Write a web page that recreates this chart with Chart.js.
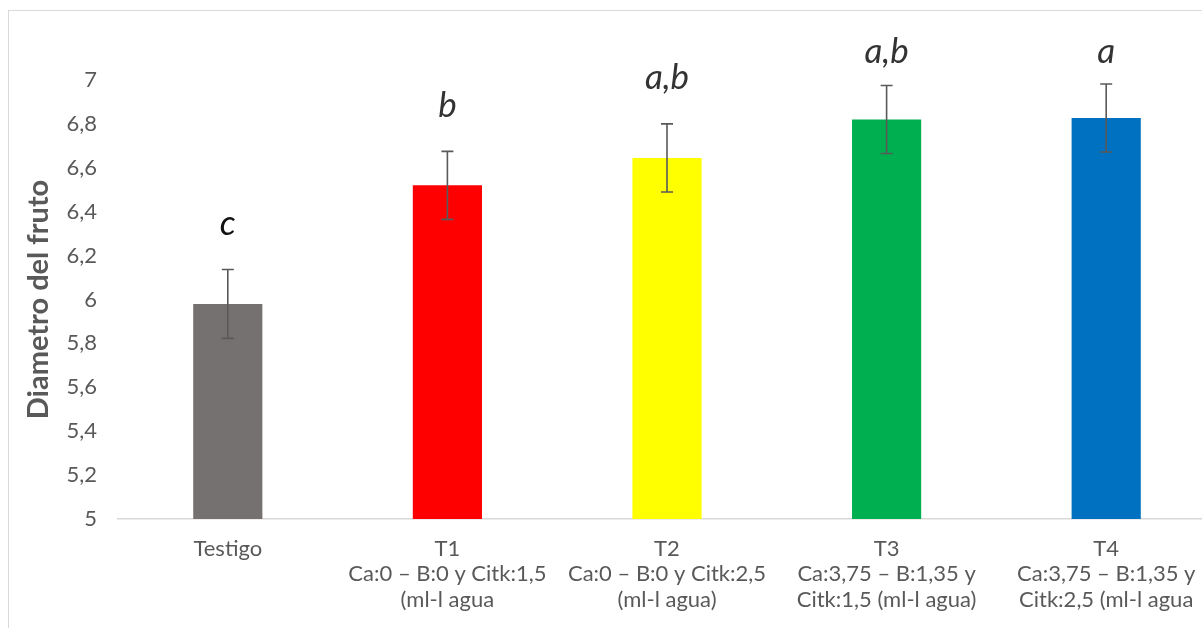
<!DOCTYPE html>
<html>
<head>
<meta charset="utf-8">
<script src="https://cdn.jsdelivr.net/npm/chart.js@4.4.1/dist/chart.umd.min.js"></script>
<style>
  html, body { margin: 0; padding: 0; background: #fff; overflow: hidden; }
  #frame {
    position: absolute; left: 8px; top: 10px; width: 1216px; height: 618px;
    border-left: 1px solid #d9d9d9; border-top: 1px solid #d9d9d9;
  }
  #chartBox { position: absolute; left: 0; top: 0; width: 1207px; height: 617px; }
</style>
</head>
<body>
<div id="frame"><div id="chartBox"><canvas id="fruitChart"></canvas></div></div>
<script>
/* --------------- Data --------------------- */
const categories = [
    ["Testigo"],
    ["T1", "Ca:0 – B:0 y Citk:1,5", "(ml-l agua"],
    ["T2", "Ca:0 – B:0 y Citk:2,5", "(ml-l agua)"],
    ["T3", "Ca:3,75 – B:1,35 y", "Citk:1,5 (ml-l agua)"],
    ["T4", "Ca:3,75 – B:1,35 y", "Citk:2,5 (ml-l agua"]
];
const diameters = [5.98, 6.52, 6.645, 6.82, 6.827];
const errors = [0.157, 0.155, 0.155, 0.155, 0.155];
const letters = ["c", "b", "a,b", "a,b", "a"];
const yTicks = [5, 5.2, 5.4, 5.6, 5.8, 6, 6.2, 6.4, 6.6, 6.8, 7];

/* --------------- Colors --------------------- */
const barColors = ["#767171", "#FF0000", "#FFFF00", "#00B050", "#0070C0"];
const letterColors = ["#111111", "#333333", "#333333", "#333333", "#333333"];

/* --------------- Error bars + letters plugin --------------------- */
const errorBarsPlugin = {
    id: "errorBars",
    afterDatasetsDraw(chart) {
        const ctx = chart.ctx;
        const yScale = chart.scales.y;
        const meta = chart.getDatasetMeta(0);
        ctx.save();
        meta.data.forEach((bar, i) => {
            const x = bar.x;
            const top = yScale.getPixelForValue(diameters[i] + errors[i]);
            const bottom = yScale.getPixelForValue(diameters[i] - errors[i]);
            ctx.strokeStyle = "#595959";
            ctx.lineWidth = 1.6;
            ctx.beginPath();
            ctx.moveTo(x, top); ctx.lineTo(x, bottom);
            ctx.moveTo(x - 6, top); ctx.lineTo(x + 6, top);
            ctx.moveTo(x - 6, bottom); ctx.lineTo(x + 6, bottom);
            ctx.stroke();

            // significance letter above the error bar
            ctx.font = "italic 35px Lato";
            ctx.fillStyle = letterColors[i];
            ctx.textAlign = "center";
            ctx.textBaseline = "middle";
            ctx.fillText(letters[i], x, Math.max(top - 46, 41));
        });
        ctx.restore();
    }
};

/* --------------- Chart --------------------- */
const fruitChart = new Chart(document.getElementById("fruitChart"), {
    type: "bar",
    plugins: [errorBarsPlugin],
    data: {
        labels: categories,
        datasets: [{
            data: diameters,
            backgroundColor: barColors,
            barPercentage: 0.63,
            categoryPercentage: 0.5
        }]
    },
    options: {
        responsive: true,
        maintainAspectRatio: false,
        animation: false,
        layout: { padding: { top: 69, right: 0, bottom: 0, left: 0 } },
        plugins: {
            legend: { display: false },
            tooltip: { enabled: false }
        },
        scales: {
            x: {
                grid: { display: false, drawTicks: false },
                border: { display: true, color: "#d9d9d9", width: 1.5 },
                ticks: {
                    color: "#595959",
                    font: { family: "Lato", size: 22, lineHeight: 1.16 },
                    padding: 17,
                    maxRotation: 0,
                    autoSkip: false
                },
                afterFit(scale) { scale.height = 109; }
            },
            y: {
                min: 5,
                max: 7,
                grid: { display: false, drawTicks: false },
                border: { display: false },
                afterBuildTicks(scale) {
                    scale.ticks = yTicks.map(v => ({ value: v }));
                },
                ticks: {
                    color: "#595959",
                    font: { family: "Lato", size: 22 },
                    padding: 21,
                    callback: v => String(Number(v.toFixed(1))).replace(".", ",")
                },
                title: {
                    display: true,
                    text: "Diametro del fruto",
                    color: "#595959",
                    font: { family: "Lato", size: 29, weight: "bold" },
                    padding: { top: 12, bottom: 0 }
                },
                afterFit(scale) { scale.width = 109; }
            }
        }
    }
});
</script>
</body>
</html>
